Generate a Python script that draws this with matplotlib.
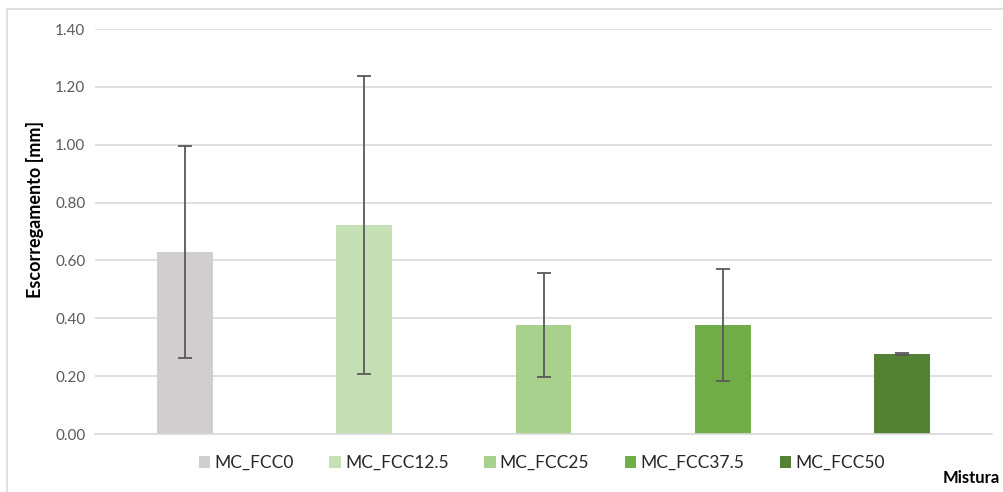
import matplotlib.pyplot as plt
from matplotlib.patches import Rectangle

categories = ["MC_FCC0", "MC_FCC12.5", "MC_FCC25", "MC_FCC37.5", "MC_FCC50"]
means = [0.63, 0.722, 0.377, 0.377, 0.277]
errors = [0.367, 0.515, 0.18, 0.193, 0.004]
colors = ["#D0CECE", "#C5E0B4", "#A9D18E", "#70AD47", "#548235"]
yticks = [0.0, 0.2, 0.4, 0.6, 0.8, 1.0, 1.2, 1.4]

plt.rcParams['font.family'] = ['Lato', 'DejaVu Sans']

fig = plt.figure(figsize=(10.04, 4.92), dpi=100)
# outer chart frame (cropped on right/bottom)
fig.patches.append(Rectangle((7 / 1004, -0.1), 1.2, 1 - 9 / 492 + 0.1,
                             transform=fig.transFigure, fill=False,
                             edgecolor="#D9D9D9", lw=1.2))

ax = fig.add_axes([95 / 1004, 1 - 434 / 492, (992 - 95) / 1004, (434 - 29) / 492])
x = list(range(len(categories)))
for i in x:
    ax.bar(i, means[i], width=0.31, color=colors[i], label=categories[i], zorder=2)
    ax.errorbar(i, means[i], yerr=errors[i], color="#595959", lw=1.3,
                capsize=5, capthick=1.3, zorder=3)

ax.set_xlim(-0.5, 4.5)
ax.set_ylim(0, 1.4)
ax.set_yticks(yticks)
ax.set_yticklabels([f"{v:.2f}" for v in yticks], fontsize=11, color="#595959")
ax.set_xticks([])
ax.tick_params(axis="y", length=0, pad=7)
ax.yaxis.grid(True, color="#D9D9D9", lw=1.2, zorder=0)
for s in ["top", "right", "left"]:
    ax.spines[s].set_visible(False)
ax.spines["bottom"].set_color("#D9D9D9")
ax.spines["bottom"].set_linewidth(1.2)

fig.text(35 / 1004, 1 - 209 / 492, "Escorregamento [mm]", fontsize=13,
         fontweight="bold", rotation=90, ha="center", va="center")

leg = fig.legend(loc="center", bbox_to_anchor=(542 / 1004, 1 - 463 / 492), ncol=5,
                 frameon=False, fontsize=12.5, handlelength=0.65, handleheight=0.65,
                 handletextpad=0.25, columnspacing=2.05)
for t in leg.get_texts():
    t.set_color("#262626")
fig.text(1000 / 1004, 1 - 478 / 492, "Mistura", fontsize=12, fontweight="bold",
         ha="right", va="center")

fig.savefig("out.png", dpi=100)
